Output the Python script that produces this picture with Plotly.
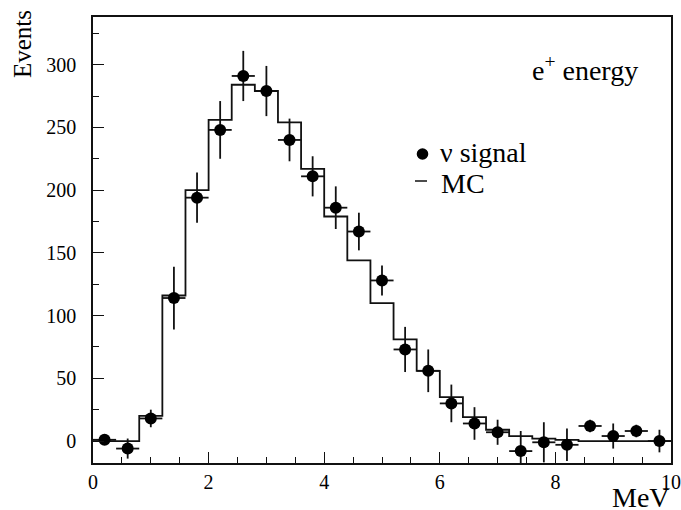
import plotly.graph_objects as go

# Data: positron energy spectrum (MeV)
bin_centers = [0.2, 0.6, 1.0, 1.4, 1.8, 2.2, 2.6, 3.0, 3.4, 3.8, 4.2, 4.6, 5.0,
               5.4, 5.8, 6.2, 6.6, 7.0, 7.4, 7.8, 8.2, 8.6, 9.0, 9.4, 9.8]
signal = [1, -6, 18, 114, 194, 248, 291, 279, 240, 211, 186, 167, 128,
          73, 56, 30, 14, 7, -8, -1, -3, 12, 4, 8, 0]
signal_err = [3, 8, 7, 25, 20, 23, 20, 20, 17, 16, 17, 15, 12,
              18, 17, 15, 13, 10, 16, 16, 13, 5, 10, 5, 9]
bin_half_width = [0.2] * len(bin_centers)
bin_edges = [0.0, 0.4, 0.8, 1.2, 1.6, 2.0, 2.4, 2.8, 3.2, 3.6, 4.0, 4.4, 4.8,
             5.2, 5.6, 6.0, 6.4, 6.8, 7.2, 7.6, 8.0, 8.4, 8.8, 9.2, 9.6, 10.0]
mc = [0, 0, 20, 116, 200, 256, 284, 279, 254, 217, 179, 144, 110,
      81, 56, 35, 19, 9, 4, 2, 1, 0, 0, 0, 0]

FONT = "Liberation Serif"
W, H = 681, 510
L, R, T, B = 93, 10, 17, 47
pw, ph = W - L - R, H - T - B

def px(x):
    return (x - L) / pw

def py(y):
    return (H - B - y) / ph

fig = go.Figure()

# MC histogram as step line
fig.add_trace(go.Scatter(
    x=bin_edges, y=mc + [mc[-1]], mode="lines", line_shape="hv",
    line=dict(color="#111111", width=1.8), showlegend=False, hoverinfo="skip"))

# Data points with error bars
fig.add_trace(go.Scatter(
    x=bin_centers, y=signal, mode="markers",
    marker=dict(color="black", size=12),
    error_y=dict(type="data", array=signal_err, color="#111111", thickness=1.8, width=0),
    error_x=dict(type="data", array=bin_half_width, color="#111111", thickness=1.8, width=0),
    showlegend=False, hoverinfo="skip"))

fig.update_layout(
    width=W, height=H,
    margin=dict(l=L, r=R, t=T, b=B, autoexpand=False),
    paper_bgcolor="white", plot_bgcolor="white",
    font=dict(family=FONT, color="black", size=20),
)
fig.update_xaxes(range=[0, 10], dtick=2, tick0=0, ticks="inside", ticklen=11,
                 tickwidth=1.2, tickcolor="#111111",
                 showgrid=False, zeroline=False, showline=True, linecolor="#111111",
                 linewidth=1.6, mirror=True, automargin=False,
                 ticklabeloverflow="allow",
                 tickfont=dict(family=FONT, size=20, color="black"),
                 minor=dict(dtick=0.5, ticks="inside", ticklen=6, tickcolor="#111111"))
fig.update_yaxes(range=[-17.5, 338], dtick=50, tick0=0, ticks="inside", ticklen=11,
                 tickwidth=1.2, tickcolor="#111111",
                 showgrid=False, zeroline=False, showline=True, linecolor="#111111",
                 linewidth=1.6, mirror=True, automargin=False,
                 ticklabelstandoff=11,
                 tickfont=dict(family=FONT, size=20, color="black"),
                 minor=dict(dtick=25, ticks="inside", ticklen=6, tickcolor="#111111"))

annotations = [
    dict(text="MeV", x=px(672), y=py(497.5), xanchor="right", yanchor="middle",
         font=dict(family=FONT, size=28)),
    dict(text="Events", x=px(23), y=py(44), xanchor="center", yanchor="middle",
         textangle=-90, font=dict(family=FONT, size=25)),
    dict(text="e<sup>+</sup> energy", x=px(640), y=py(68), xanchor="right", yanchor="middle",
         font=dict(family=FONT, size=28)),
    dict(text="ν signal", x=px(438), y=py(152), xanchor="left", yanchor="middle",
         font=dict(family=FONT, size=28)),
    dict(text="MC", x=px(439), y=py(183.5), xanchor="left", yanchor="middle",
         font=dict(family=FONT, size=28)),
]
for a in annotations:
    a.update(xref="paper", yref="paper", showarrow=False)
fig.update_layout(annotations=annotations)

# Legend symbols
fig.add_shape(type="circle", xref="paper", yref="paper",
              x0=px(416.7), x1=px(428.3), y0=py(148.2), y1=py(159.8),
              fillcolor="black", line=dict(color="black", width=0))
fig.add_shape(type="line", xref="paper", yref="paper",
              x0=px(415), x1=px(427), y0=py(181), y1=py(181),
              line=dict(color="#111111", width=1.5))

fig.write_html("out.html", config={"displayModeBar": False},
               post_script="document.body.style.margin='0';document.body.style.overflow='hidden';")
